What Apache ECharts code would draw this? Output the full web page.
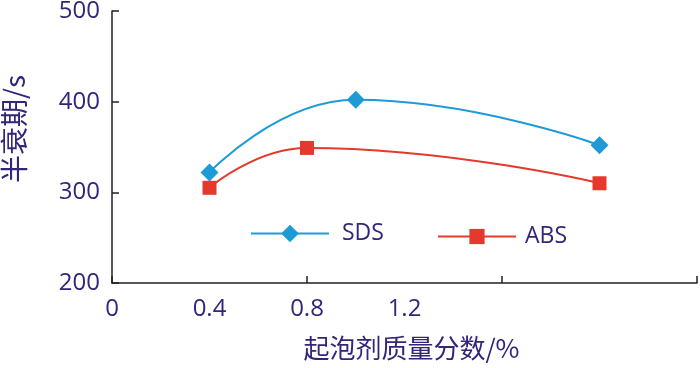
<!DOCTYPE html>
<html><head><meta charset="utf-8">
<script src="https://cdn.jsdelivr.net/npm/echarts@6/dist/echarts.min.js"></script>
<style>html,body{margin:0;padding:0;background:#fff}#c{width:700px;height:368px}</style>
</head><body><div id="c"></div>
<script>
var sdsX = [0.4, 1.0, 2.0];
var sdsY = [322, 402, 352];
var absX = [0.4, 0.8, 2.0];
var absY = [305, 349, 310];
var xLabels = [0, 0.4, 0.8, 1.2];
var yTicks = [200, 300, 400, 500];

var txt = '#34247a';
var font = '"Open Sans", "Noto Sans", sans-serif';
var cjk = '"Noto Sans CJK SC", sans-serif';
function pairs(xs, ys){ return xs.map(function(x,i){return [x, ys[i]];}); }

var chart = echarts.init(document.getElementById('c'));
chart.setOption({
  animation: false,
  grid: {left: 112, right: 3, top: 11, bottom: 85, containLabel: false, outerBoundsMode: 'none'},
  legend: [
    {data: ['SDS'], left: 250, top: 222, padding: 0, itemWidth: 78, itemHeight: 22, itemGap: 0,
     textStyle: {color: txt, fontSize: 23, fontFamily: font, padding: [0,0,0,8]}},
    {data: ['ABS'], left: 437, top: 225, padding: 0, itemWidth: 78, itemHeight: 19, itemGap: 0,
     textStyle: {color: txt, fontSize: 23, fontFamily: font, padding: [0,0,0,4]}}
  ],
  xAxis: [
    {type: 'value', position: 'bottom', min: 0, max: 2.4, interval: 0.8,
     axisLine: {show: true, lineStyle: {color: '#222', width: 1.5}},
     axisTick: {show: true, inside: true, length: 7, lineStyle: {color: '#222', width: 1.5}},
     axisLabel: {show: false}, splitLine: {show: false},
     name: '起泡剂质量分数/%', nameLocation: 'middle', nameGap: 52,
     nameTextStyle: {color: txt, fontSize: 26, fontFamily: cjk, padding: [0,0,0,14]}},
    {type: 'value', position: 'bottom', min: 0, max: 2.4, interval: 0.4,
     axisLine: {show: false}, axisTick: {show: false}, splitLine: {show: false},
     axisLabel: {show: true, margin: 14, color: txt, fontSize: 24, fontFamily: font,
       formatter: function(v){ var r = Math.round(v*10)/10; return xLabels.indexOf(r) >= 0 ? (r === 0 ? '0' : r.toFixed(1)) : ''; }}}
  ],
  yAxis: {type: 'value', min: yTicks[0], max: yTicks[yTicks.length-1], interval: 100,
    axisLine: {show: true, lineStyle: {color: '#222', width: 1.5}},
    axisTick: {show: true, inside: true, length: 7, lineStyle: {color: '#222', width: 1.5}},
    axisLabel: {margin: 12, color: txt, fontSize: 24, fontFamily: font},
    splitLine: {show: false},
    name: '半衰期/s', nameLocation: 'middle', nameGap: 84,
    nameTextStyle: {color: txt, fontSize: 28, fontFamily: cjk, padding: [0,0,0,36]}},
  series: [
    {name: 'SDS', type: 'line', xAxisIndex: 0, data: pairs(sdsX, sdsY), smooth: true,
     symbol: 'diamond', symbolSize: 18, color: '#1e9bd7',
     lineStyle: {width: 2, color: '#1e9bd7'}, itemStyle: {color: '#1e9bd7'}},
    {name: 'ABS', type: 'line', xAxisIndex: 0, data: pairs(absX, absY), smooth: true,
     symbol: 'rect', symbolSize: 14, color: '#e4392c',
     lineStyle: {width: 2, color: '#e4392c'}, itemStyle: {color: '#e4392c'}}
  ]
});
</script></body></html>
